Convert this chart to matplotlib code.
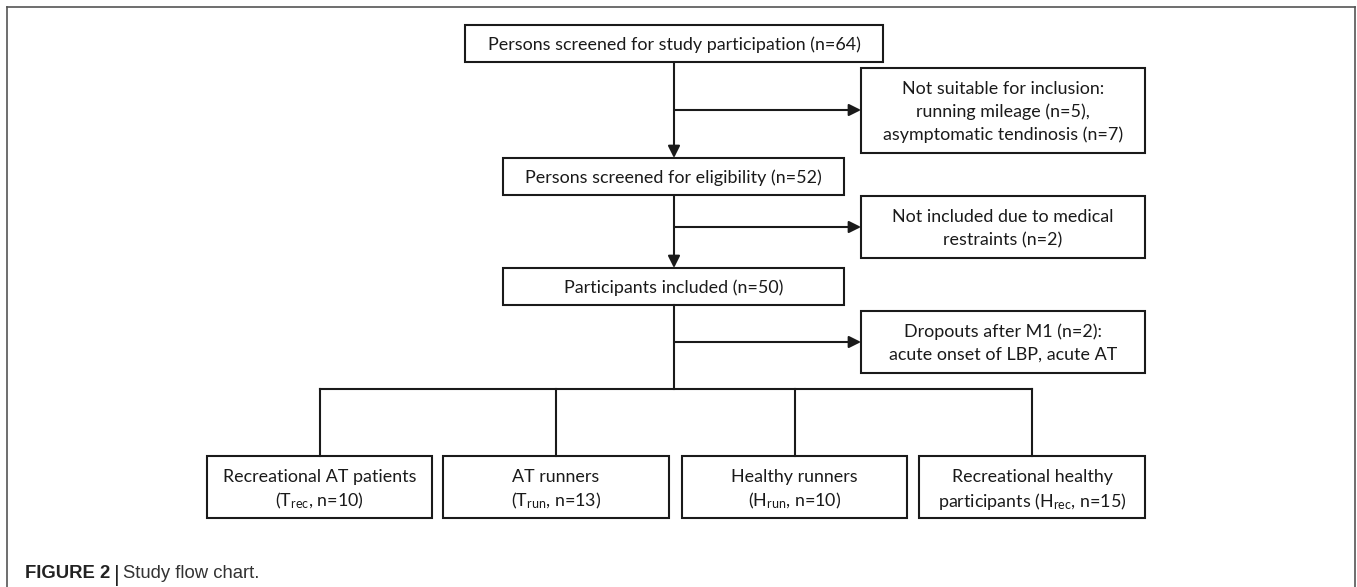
import matplotlib
matplotlib.use("Agg")
import matplotlib.pyplot as plt
from matplotlib.patches import Rectangle

plt.rcParams['font.family'] = ['Lato', 'DejaVu Sans']
plt.rcParams['mathtext.fontset'] = 'custom'
plt.rcParams['mathtext.rm'] = 'Lato'
plt.rcParams['mathtext.it'] = 'Lato:italic'

# counts
n_screened = 64
n_mileage = 5
n_tendinosis = 7
n_eligible = 52
n_medical = 2
n_included = 50
n_dropouts = 2

group_first = ['Recreational AT patients', 'AT runners', 'Healthy runners',
               'Recreational healthy']
group_prefix = ['', '', '', 'participants ']
group_letter = ['T', 'T', 'H', 'H']
group_sub = ['rec', 'run', 'run', 'rec']
group_n = [10, 13, 10, 15]

main_text = [
    [f'Persons screened for study participation (n={n_screened})'],
    [f'Persons screened for eligibility (n={n_eligible})'],
    [f'Participants included (n={n_included})'],
]
side_text = [
    ['Not suitable for inclusion:', f'running mileage (n={n_mileage}),',
     f'asymptomatic tendinosis (n={n_tendinosis})'],
    ['Not included due to medical', f'restraints (n={n_medical})'],
    [f'Dropouts after M1 (n={n_dropouts}):', 'acute onset of LBP, acute AT'],
]

# layout in pixels (y grows downward)
W, H = 1357, 587
main_boxes = [(465, 25, 883, 62), (503, 158, 844, 195), (503, 268, 844, 305)]
side_boxes = [(861, 68, 1145, 153), (861, 196, 1145, 258), (861, 311, 1145, 373)]
branch_y = [110, 227, 342]
main_x = 674
split_y = 389
bottom_x = [(207, 432), (443, 669), (682, 907), (919, 1145)]
bottom_y = (456, 518)

LW = 1.5
FS = 12.9
LINE_GAP = 23
INK = '#1a1a1a'

fig = plt.figure(figsize=(W / 100, H / 100), dpi=100)
ax = fig.add_axes([0, 0, 1, 1])
ax.set_xlim(0, W)
ax.set_ylim(H, 0)
ax.axis('off')


def box(x0, y0, x1, y1, lines):
    ax.add_patch(Rectangle((x0, y0), x1 - x0, y1 - y0, fill=False,
                           edgecolor=INK, lw=LW))
    cx = (x0 + x1) / 2
    cy = (y0 + y1) / 2
    top = cy - LINE_GAP * (len(lines) - 1) / 2
    for i, s in enumerate(lines):
        ax.text(cx, top + i * LINE_GAP, s, ha='center', va='center_baseline',
                fontsize=FS, color=INK)


def arrow(x0, y0, x1, y1):
    ax.annotate('', xy=(x1, y1), xytext=(x0, y0),
                arrowprops=dict(arrowstyle='-|>', mutation_scale=18, lw=LW,
                                color=INK, shrinkA=0, shrinkB=0))


for (x0, y0, x1, y1), lines in zip(main_boxes, main_text):
    box(x0, y0, x1, y1, lines)
for (x0, y0, x1, y1), lines in zip(side_boxes, side_text):
    box(x0, y0, x1, y1, lines)

# main spine
arrow(main_x, main_boxes[0][3], main_x, main_boxes[1][1])
arrow(main_x, main_boxes[1][3], main_x, main_boxes[2][1])
ax.plot([main_x, main_x], [main_boxes[2][3], split_y], color=INK, lw=LW)
for y, (sx0, _, _, _) in zip(branch_y, side_boxes):
    arrow(main_x, y, sx0, y)

# split into groups
centers = [(a + b) / 2 for a, b in bottom_x]
ax.plot([centers[0], centers[-1]], [split_y, split_y], color=INK, lw=LW)
for i, (x0, x1) in enumerate(bottom_x):
    ax.plot([centers[i], centers[i]], [split_y, bottom_y[0]], color=INK, lw=LW)
    second = (f'{group_prefix[i]}($\\mathregular{{{group_letter[i]}_{{{group_sub[i]}}}}}$, '
              f'n={group_n[i]})')
    box(x0, bottom_y[0], x1, bottom_y[1], [group_first[i], second])

# outer frame
frame = '#555555'
ax.plot([7, 7], [H + 5, 7], color=frame, lw=1.2)
ax.plot([7, 1355], [7, 7], color=frame, lw=1.2)
ax.plot([1355, 1355], [7, H + 5], color=frame, lw=1.2)

# caption
renderer = fig.canvas.get_renderer()
cap_font = ['Liberation Sans', 'DejaVu Sans']
cap_y = 578
t1 = ax.text(25, cap_y, 'FIGURE 2', fontsize=13.3, fontweight='bold',
             family=cap_font, color='#222222', va='baseline', ha='left')
bb = t1.get_window_extent(renderer)
x_next = bb.x1 + 4
t2 = ax.text(x_next, cap_y + 3, '|', fontsize=16, family=cap_font,
             color='#222222', va='baseline', ha='left')
bb2 = t2.get_window_extent(renderer)
ax.text(bb2.x1 + 3, cap_y, 'Study flow chart.', fontsize=13.3, family=cap_font,
        color='#333333', va='baseline', ha='left')

fig.savefig('out.png', dpi=100)
